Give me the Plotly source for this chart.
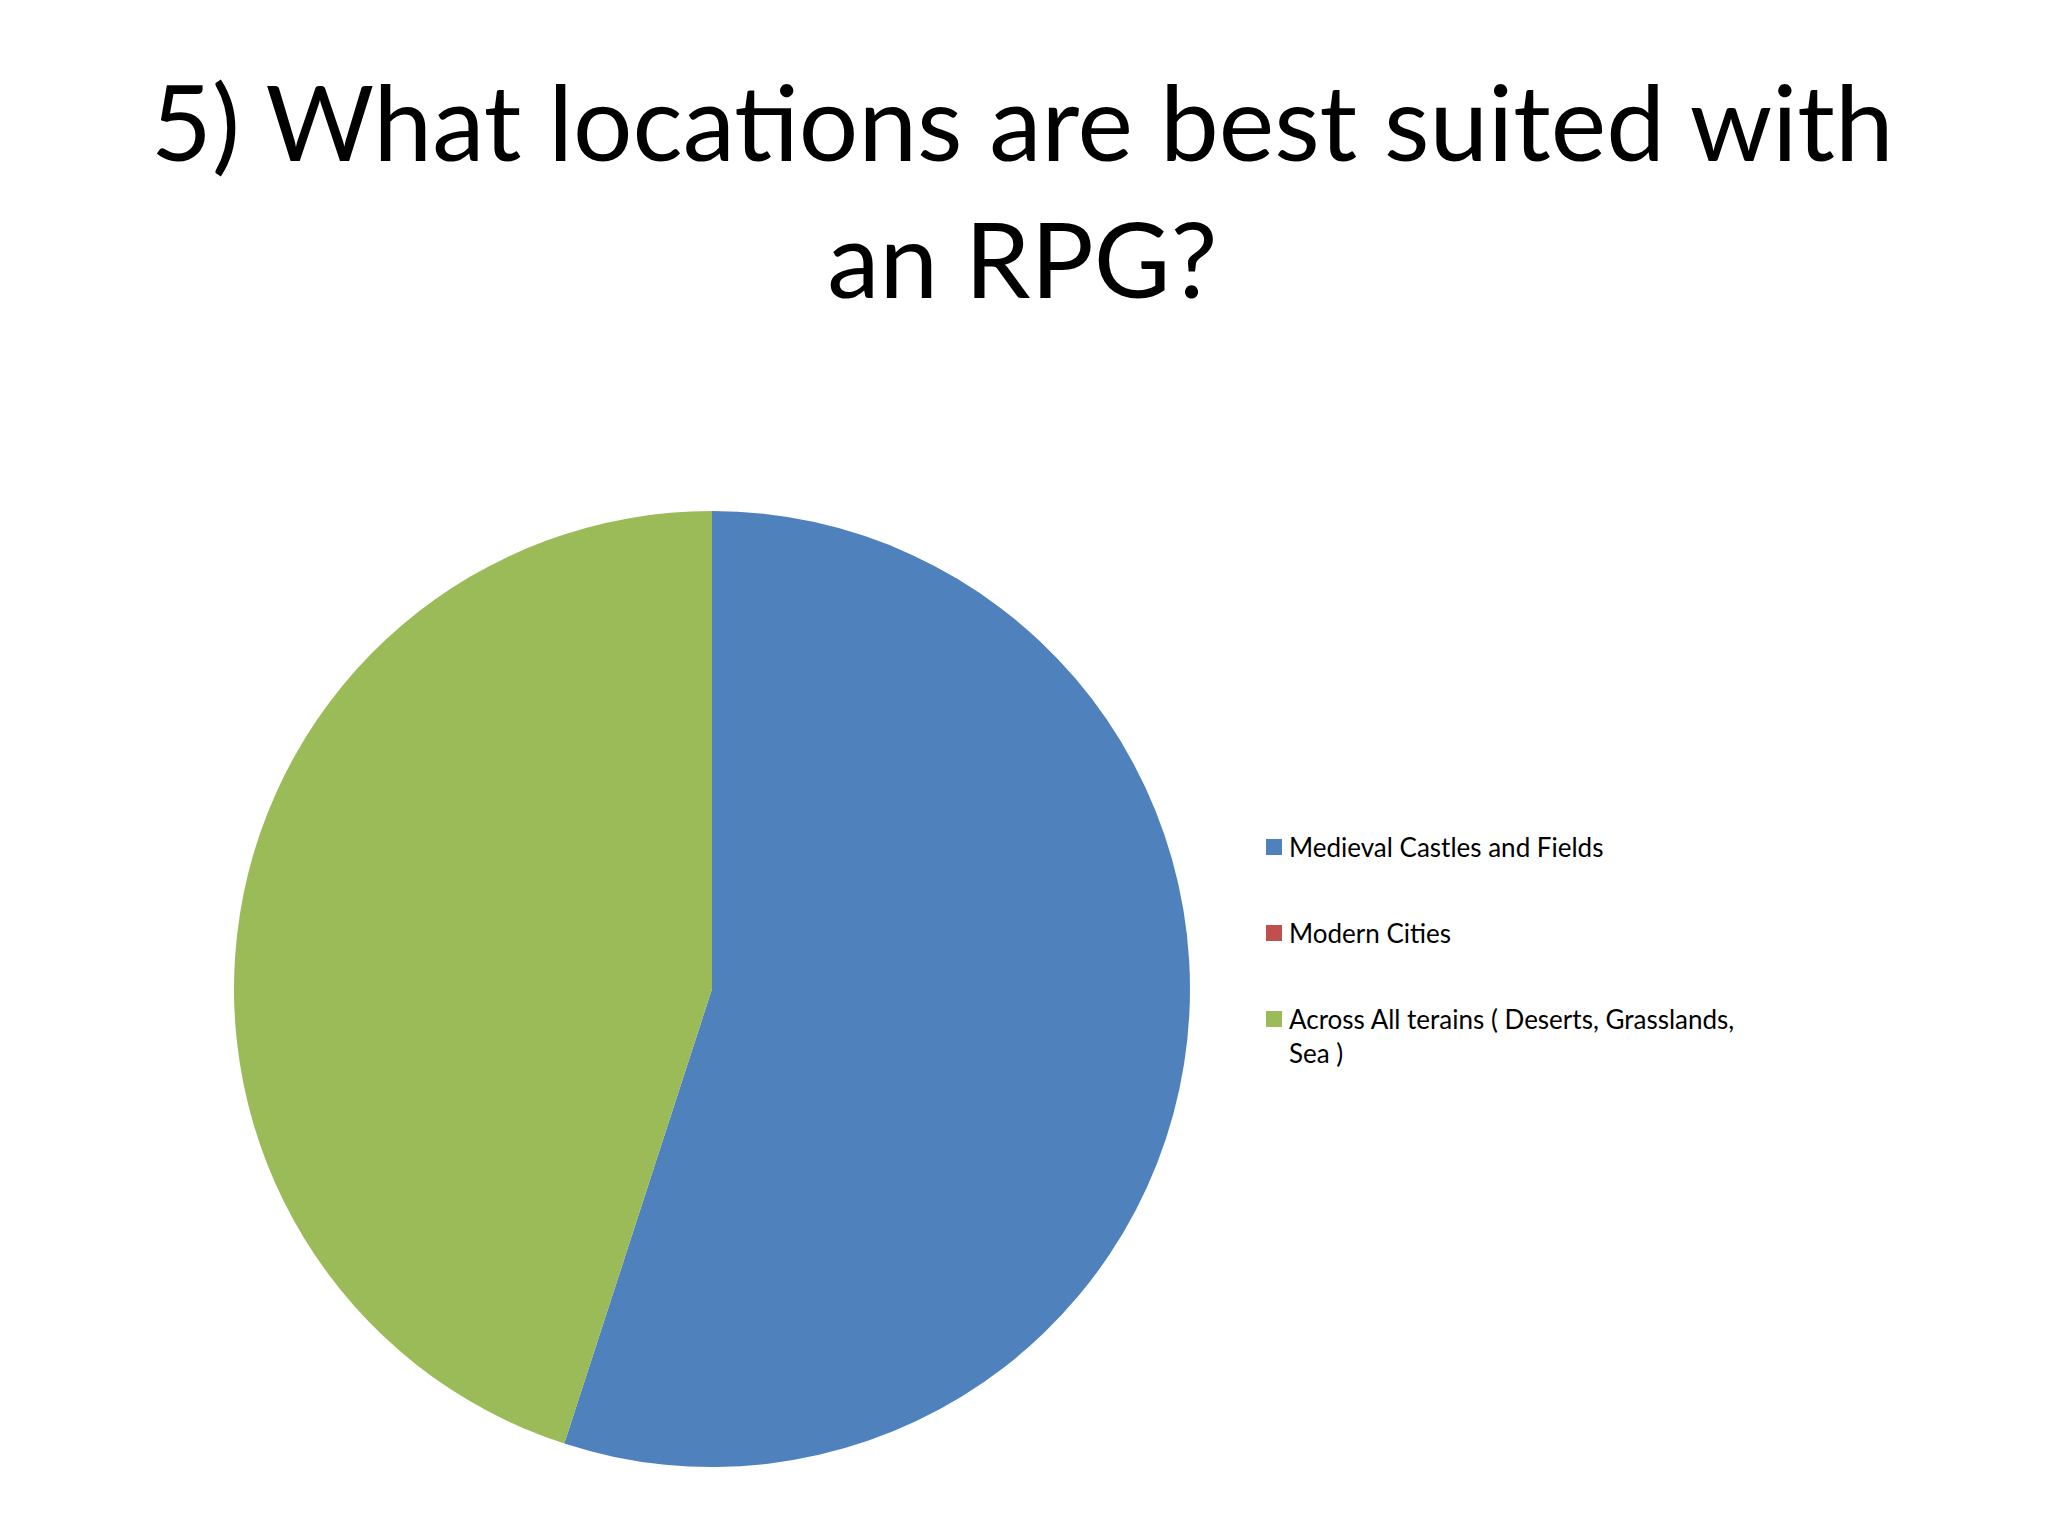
import plotly.graph_objects as go

labels = ["Medieval Castles and Fields", "Modern Cities",
          "Across All terains ( Deserts, Grasslands,<br>Sea )"]
values = [11, 0, 9]
colors = ["#4F81BD", "#C0504D", "#9BBB59"]
title_text = "5) What locations are best suited with<br>an RPG?"

W, H = 2048, 1536
cx, cy, r = 704, 981, 478

fig = go.Figure(go.Pie(
    labels=labels, values=values, sort=False, direction="clockwise", rotation=0,
    marker=dict(colors=colors, line=dict(width=0)),
    textinfo="none", hoverinfo="label+value", showlegend=False,
    domain=dict(x=[(cx - r) / W, (cx + r) / W], y=[(H - cy - r) / H, (H - cy + r) / H]),
))

annotations = [dict(text=title_text, x=0.5 - 10 / W, xanchor="center", y=1 - 47 / H, yanchor="top",
                    xref="paper", yref="paper", showarrow=False,
                    font=dict(family="Lato", size=105, color="black"))]
shapes = []

# legend (built from labels/colors)
leg_x_sq, sq = 1258, 16
leg_x_text = 1279
leg_y0, leg_step, fs = 839, 86, 26
for i, (lab, col) in enumerate(zip(labels, colors)):
    yc = leg_y0 + i * leg_step
    shapes.append(dict(type="rect", xref="paper", yref="paper",
                       x0=leg_x_sq / W, x1=(leg_x_sq + sq) / W,
                       y0=1 - (yc - sq / 2) / H, y1=1 - (yc + sq / 2) / H,
                       fillcolor=col, line=dict(width=0)))
    annotations.append(dict(text=lab, x=leg_x_text / W, xanchor="left",
                            y=1 - (yc - fs * 0.65 - 1) / H, yanchor="top", align="left",
                            xref="paper", yref="paper", showarrow=False,
                            font=dict(family="Lato", size=fs, color="black")))

fig.update_layout(
    width=W, height=H,
    margin=dict(l=0, r=0, t=0, b=0),
    paper_bgcolor="white", plot_bgcolor="white",
    font=dict(family="Lato", color="black"),
    annotations=annotations, shapes=shapes,
    showlegend=False,
)

fig.write_html("out.html")
